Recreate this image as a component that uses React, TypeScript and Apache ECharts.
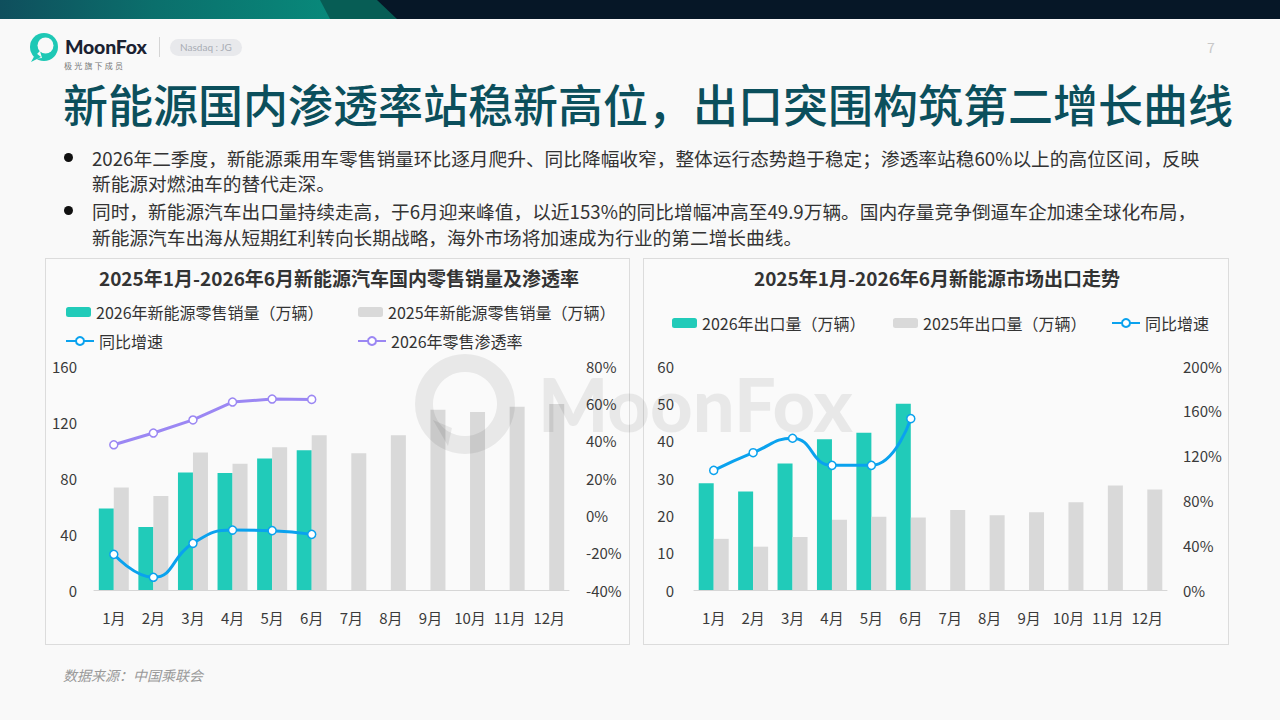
import React, { useEffect, useRef } from "react";
import * as echarts from "echarts";

const FONT = '"Noto Sans CJK SC", "Noto Sans", sans-serif';

const months = ["1月", "2月", "3月", "4月", "5月", "6月", "7月", "8月", "9月", "10月", "11月", "12月"];

// Left chart: domestic retail (万辆) and rates (%)
const retail2026 = [58.3, 45.0, 84.0, 83.6, 94.0, 99.8];
const retail2025 = [73.3, 67.1, 98.3, 90.2, 101.9, 110.5, 97.6, 110.5, 128.8, 127.1, 130.9, 132.9];
const retailYoY = [-20.9, -33.2, -15.0, -7.9, -8.2, -10.2];
const penetration2026 = [37.8, 44.1, 51.1, 60.7, 62.3, 62.1];

// Right chart: exports (万辆) and YoY (%)
const export2026 = [28.6, 26.4, 33.9, 40.4, 42.1, 49.9];
const export2025 = [13.7, 11.6, 14.2, 18.8, 19.6, 19.4, 21.4, 20.0, 20.8, 23.5, 28.0, 26.9];
const exportYoY = [106.8, 122.6, 135.5, 111.3, 111.3, 153.0];

const leftTitle = "2025年1月-2026年6月新能源汽车国内零售销量及渗透率";
const rightTitle = "2025年1月-2026年6月新能源市场出口走势";

const TEAL = "#21cbb9";
const GRAY = "#d9d9d9";
const BLUE = "#0aa2ee";
const PURPLE = "#9b87f3";
const LABEL = "#3a3a3a";

function buildOption(): any {
  const axisLabel = { color: LABEL, fontSize: 15, fontFamily: FONT };
  const xAxisBase = {
    type: "category",
    data: months,
    axisLine: { lineStyle: { color: "#d6d6d6", width: 1 } },
    axisTick: { show: false },
    axisLabel: { ...axisLabel, margin: 20, interval: 0, hideOverlap: false },
  };
  const yBase = {
    type: "value",
    splitLine: { show: false },
    axisLine: { show: false },
    axisTick: { show: false },
  };
  const legendText = { color: "#333", fontSize: 16, fontFamily: FONT, lineHeight: 20 };
  const barLegend = (name: string, left: number, top: number) => ({
    data: [name],
    left,
    top,
    padding: 0,
    itemWidth: 25,
    itemHeight: 10,
    itemGap: 0,
    selectedMode: false,
    textStyle: legendText,
  });
  const lineLegend = (name: string, left: number, top: number) => ({
    data: [name],
    left,
    top,
    padding: 0,
    itemWidth: 28,
    itemHeight: 10,
    itemGap: 0,
    selectedMode: false,
    textStyle: legendText,
  });
  const lineSeries = (name: string, data: number[], color: string, xi: number, yi: number, smooth: boolean) => ({
    name,
    type: "line",
    xAxisIndex: xi,
    yAxisIndex: yi,
    data,
    smooth,
    symbol: "circle",
    symbolSize: 8,
    z: 5,
    lineStyle: { color, width: 3 },
    itemStyle: { color: "#ffffff", borderColor: color, borderWidth: 1.5 },
  });
  const wmFill = "rgba(0,0,0,0.07)";
  return {
    animation: false,
    textStyle: { fontFamily: FONT },
    graphic: [
      {
        type: "text",
        x: 339,
        y: 277,
        silent: true,
        style: {
          text: leftTitle,
          fontSize: 19,
          fontWeight: "bold",
          fontFamily: FONT,
          fill: "#333",
          align: "center",
          verticalAlign: "middle",
        },
      },
      {
        type: "text",
        x: 937,
        y: 277,
        silent: true,
        style: {
          text: rightTitle,
          fontSize: 19,
          fontWeight: "bold",
          fontFamily: FONT,
          fill: "#333",
          align: "center",
          verticalAlign: "middle",
        },
      },
      {
        type: "ring",
        silent: true,
        z: 100,
        shape: { cx: 465, cy: 404, r: 50, r0: 32 },
        style: { fill: wmFill },
      },
      {
        type: "polygon",
        silent: true,
        z: 100,
        shape: { points: [[433, 420], [452, 428], [448, 446]] },
        style: { fill: wmFill },
      },
      {
        type: "text",
        silent: true,
        z: 100,
        x: 538,
        y: 403,
        style: {
          text: "MoonFox",
          fontSize: 74,
          fontWeight: 900,
          fontFamily: "Lato, sans-serif",
          fill: wmFill,
          verticalAlign: "middle",
        },
      },
    ],
    legend: [
      barLegend("2026年新能源零售销量（万辆）", 66, 302),
      barLegend("2025年新能源零售销量（万辆）", 358, 302),
      lineLegend("同比增速", 65, 331),
      lineLegend("2026年零售渗透率", 357, 331),
      barLegend("2026年出口量（万辆）", 672, 313),
      barLegend("2025年出口量（万辆）", 893, 313),
      lineLegend("同比增速", 1111, 313),
    ],
    grid: [
      { left: 94, top: 366, width: 475, height: 224, outerBoundsMode: "none" },
      { left: 694, top: 366, width: 473, height: 224, outerBoundsMode: "none" },
    ],
    xAxis: [
      { ...xAxisBase, gridIndex: 0 },
      { ...xAxisBase, gridIndex: 1 },
    ],
    yAxis: [
      { ...yBase, gridIndex: 0, position: "left", min: 0, max: 160, interval: 40, axisLabel: { ...axisLabel, margin: 17 } },
      {
        ...yBase,
        gridIndex: 0,
        position: "right",
        min: -40,
        max: 80,
        interval: 20,
        axisLabel: { ...axisLabel, margin: 17, formatter: "{value}%" },
      },
      { ...yBase, gridIndex: 1, position: "left", min: 0, max: 60, interval: 10, axisLabel: { ...axisLabel, margin: 20 } },
      {
        ...yBase,
        gridIndex: 1,
        position: "right",
        min: 0,
        max: 200,
        interval: 40,
        axisLabel: { ...axisLabel, margin: 16, formatter: "{value}%" },
      },
    ],
    series: [
      {
        name: "2026年新能源零售销量（万辆）",
        type: "bar",
        xAxisIndex: 0,
        yAxisIndex: 0,
        data: retail2026,
        barWidth: 15,
        barGap: "0%",
        itemStyle: { color: TEAL },
      },
      {
        name: "2025年新能源零售销量（万辆）",
        type: "bar",
        xAxisIndex: 0,
        yAxisIndex: 0,
        data: retail2025,
        barWidth: 15,
        barGap: "0%",
        itemStyle: { color: GRAY },
      },
      lineSeries("同比增速", retailYoY, BLUE, 0, 1, true),
      lineSeries("2026年零售渗透率", penetration2026, PURPLE, 0, 1, false),
      {
        name: "2026年出口量（万辆）",
        type: "bar",
        xAxisIndex: 1,
        yAxisIndex: 2,
        data: export2026,
        barWidth: 15,
        barGap: "0%",
        itemStyle: { color: TEAL },
      },
      {
        name: "2025年出口量（万辆）",
        type: "bar",
        xAxisIndex: 1,
        yAxisIndex: 2,
        data: export2025,
        barWidth: 15,
        barGap: "0%",
        itemStyle: { color: GRAY },
      },
      lineSeries("同比增速", exportYoY, BLUE, 1, 3, true),
    ],
  };
}

const abs = (s: React.CSSProperties): React.CSSProperties => ({ position: "absolute", ...s });

const bodyLines = [
  { text: "2026年二季度，新能源乘用车零售销量环比逐月爬升、同比降幅收窄，整体运行态势趋于稳定；渗透率站稳60%以上的高位区间，反映", y: 157, bullet: true },
  { text: "新能源对燃油车的替代走深。", y: 182, bullet: false },
  { text: "同时，新能源汽车出口量持续走高，于6月迎来峰值，以近153%的同比增幅冲高至49.9万辆。国内存量竞争倒逼车企加速全球化布局，", y: 210, bullet: true },
  { text: "新能源汽车出海从短期红利转向长期战略，海外市场将加速成为行业的第二增长曲线。", y: 236, bullet: false },
];

export default function App() {
  const ref = useRef<HTMLDivElement>(null);
  useEffect(() => {
    if (!ref.current) return;
    const chart = echarts.init(ref.current, null, { renderer: "svg" });
    chart.setOption(buildOption());
    return () => chart.dispose();
  }, []);

  return (
    <div
      style={{
        position: "fixed",
        left: 0,
        top: 0,
        width: 1280,
        height: 720,
        background: "#f9f9f9",
        overflow: "hidden",
        fontFamily: FONT,
      }}
    >
      {/* top banner */}
      <div style={abs({ left: 0, top: 0, width: 1280, height: 19, background: "#061727" })} />
      <div
        style={abs({
          left: 0,
          top: 0,
          width: 400,
          height: 19,
          background: "#075d55",
          clipPath: "polygon(0 0, 377px 0, 397px 19px, 0 19px)",
        })}
      />
      <div
        style={abs({
          left: 0,
          top: 0,
          width: 340,
          height: 19,
          background: "linear-gradient(90deg, #0f4f5d 0%, #0b6f6c 45%, #088a7b 100%)",
          clipPath: "polygon(0 0, 320px 0, 330px 19px, 0 19px)",
        })}
      />

      {/* logo */}
      <svg style={abs({ left: 28, top: 32 })} width="32" height="32" viewBox="0 0 32 32">
        <circle cx="16" cy="15" r="14" fill="#1ec8b5" />
        <circle cx="17.5" cy="13.5" r="8" fill="#f9f9f9" />
        <polygon points="4,27 12,19 14,26" fill="#f9f9f9" />
        <polygon points="3,30 8,21 13,25" fill="#1ec8b5" />
      </svg>
      <div
        style={abs({
          left: 65,
          top: 35,
          fontFamily: "Lato, 'Open Sans', sans-serif",
          fontWeight: 900,
          fontSize: 19.5,
          lineHeight: "24px",
          color: "#1b2232",
          letterSpacing: -0.2,
        })}
      >
        MoonFox
      </div>
      <div style={abs({ left: 64, top: 61, fontSize: 8, lineHeight: "10px", color: "#777", letterSpacing: 2.2 })}>
        极光旗下成员
      </div>
      <div style={abs({ left: 159, top: 37, width: 1, height: 20, background: "#d5d5d5" })} />
      <div
        style={abs({
          left: 170,
          top: 39,
          width: 72,
          height: 17,
          borderRadius: 9,
          background: "#e8e9ec",
          color: "#a9adb5",
          fontSize: 10,
          lineHeight: "17px",
          textAlign: "center",
          fontFamily: "Lato, sans-serif",
        })}
      >
        Nasdaq : JG
      </div>
      <div style={abs({ left: 1207, top: 38, fontSize: 14, lineHeight: "18px", color: "#c8c8c8" })}>7</div>

      {/* headline */}
      <div
        style={abs({
          left: 63,
          top: 81,
          fontSize: 45,
          lineHeight: "46px",
          fontWeight: 500,
          color: "#0b4f5c",
          whiteSpace: "nowrap",
        })}
      >
        新能源国内渗透率站稳新高位，出口突围构筑第二增长曲线
      </div>

      {/* body text */}
      {bodyLines.map((l, i) => (
        <React.Fragment key={i}>
          {l.bullet && (
            <div
              style={abs({
                left: 64,
                top: l.y - 4.5,
                width: 9,
                height: 9,
                borderRadius: "50%",
                background: "#111",
              })}
            />
          )}
          <div
            style={abs({
              left: 92,
              top: l.y - 12.5,
              fontSize: 18.7,
              lineHeight: "25px",
              color: "#333",
              whiteSpace: "nowrap",
            })}
          >
            {l.text}
          </div>
        </React.Fragment>
      ))}

      {/* chart panels */}
      <div
        style={abs({
          left: 45,
          top: 258,
          width: 585,
          height: 387,
          border: "1px solid #dcdcdc",
          boxSizing: "border-box",
          background: "#fafafa",
        })}
      />
      <div
        style={abs({
          left: 643,
          top: 258,
          width: 586,
          height: 387,
          border: "1px solid #dcdcdc",
          boxSizing: "border-box",
          background: "#fafafa",
        })}
      />

      {/* footer */}
      <div style={abs({ left: 63, top: 666, fontSize: 14, lineHeight: "18px", color: "#9a9a9a", fontStyle: "italic" })}>
        数据来源：中国乘联会
      </div>

      <div ref={ref} style={abs({ left: 0, top: 0, width: 1280, height: 720 })} />
    </div>
  );
}
